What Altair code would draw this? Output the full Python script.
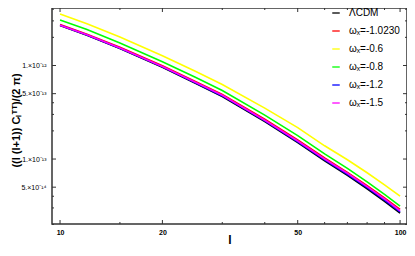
import altair as alt
import pandas as pd

ell = [10, 12, 15, 20, 25, 30, 40, 50, 60, 70, 80, 90, 100]
lcdm = [2.68e-12, 2.11e-12, 1.52e-12, 9.57e-13, 6.45e-13, 4.66e-13, 2.51e-13, 1.50e-13, 9.57e-14, 6.70e-14, 4.81e-14, 3.53e-14, 2.64e-14]
w_10230 = [2.75e-12, 2.16e-12, 1.57e-12, 9.93e-13, 6.73e-13, 4.90e-13, 2.66e-13, 1.60e-13, 1.025e-13, 7.21e-14, 5.20e-14, 3.84e-14, 2.89e-14]
w_06 = [3.56e-12, 2.80e-12, 2.02e-12, 1.27e-12, 8.67e-13, 6.26e-13, 3.50e-13, 2.17e-13, 1.385e-13, 9.82e-14, 7.13e-14, 5.30e-14, 4.01e-14]
w_08 = [3.07e-12, 2.42e-12, 1.74e-12, 1.096e-12, 7.48e-13, 5.40e-13, 2.95e-13, 1.78e-13, 1.137e-13, 7.96e-14, 5.71e-14, 4.19e-14, 3.14e-14]
w_12 = [2.69e-12, 2.12e-12, 1.53e-12, 9.67e-13, 6.53e-13, 4.73e-13, 2.56e-13, 1.53e-13, 9.80e-14, 6.87e-14, 4.94e-14, 3.63e-14, 2.72e-14]
w_15 = [2.70e-12, 2.13e-12, 1.54e-12, 9.76e-13, 6.61e-13, 4.80e-13, 2.60e-13, 1.56e-13, 1.00e-13, 7.04e-14, 5.07e-14, 3.74e-14, 2.80e-14]

names = ["ΛCDM", "ωₓ=-1.0230", "ωₓ=-0.6", "ωₓ=-0.8", "ωₓ=-1.2", "ωₓ=-1.5"]
colors = ["#000000", "#ff0000", "#ffff00", "#00ff00", "#0000ff", "#ff00ff"]
series = [lcdm, w_10230, w_06, w_08, w_12, w_15]

x_major = [10, 20, 50, 100]
x_minor = [15, 30, 40, 60, 70, 80, 90]
y_major = [1e-12, 5e-13, 1e-13, 5e-14]
y_minor = [4e-12, 3e-12, 2e-12, 4e-13, 3e-13, 2e-13, 4e-14, 3e-14, 2e-14]

rows = []
for name, vals in zip(names, series):
    for l, v in zip(ell, vals):
        rows.append({"l": l, "v": v, "series": name})
df = pd.DataFrame(rows)

W, H = 355, 216
xscale = alt.Scale(type="log", domain=[9.47, 104.8], nice=False)
yscale = alt.Scale(type="log", domain=[2.02e-14, 4.12e-12], nice=False)

lines = alt.Chart(df).mark_line(strokeWidth=1.6, clip=True).encode(
    x=alt.X("l:Q", scale=xscale, axis=alt.Axis(
        values=x_major, format="d", title="l", ticks=False, grid=False, domain=False,
        labelFont="Liberation Sans", labelFontSize=7, labelFontWeight="bold", labelColor="#000",
        labelPadding=4, titleFont="Liberation Sans", titleFontSize=12, titleFontWeight="bold",
        titleY=22, titleBaseline="bottom", titleColor="#000")),
    y=alt.Y("v:Q", scale=yscale, axis=alt.Axis(
        values=y_major,
        labelExpr="datum.value > 9e-13 ? '1.×10⁻¹²' : datum.value > 4e-13 ? '5.×10⁻¹³' : datum.value > 9e-14 ? '1.×10⁻¹³' : '5.×10⁻¹⁴'",
        ticks=False, grid=False, domain=False, labelFont="Liberation Sans", labelFontSize=7,
        labelColor="#000", labelPadding=6,
        title="((l (l+1)) Cₗᵀᵀ)/(2 π)", titleFont="Liberation Sans", titleFontSize=11,
        titleFontWeight="bold", titleAngle=270, titleBaseline="middle", titleX=-36, titleY=112,
        titleAlign="center", titleColor="#000")),
    color=alt.Color("series:N", scale=alt.Scale(domain=names, range=colors), legend=alt.Legend(
        title=None, orient="none", legendX=279, legendY=0, symbolType="stroke",
        symbolStrokeWidth=1.3, symbolSize=56, labelFont="Liberation Sans", labelFontSize=10,
        labelColor="#000", rowPadding=8, labelOffset=8, padding=0)),
)

def ticks(vals, side, length):
    d = pd.DataFrame({"t": vals})
    m = alt.Chart(d).mark_rule(color="#333333", strokeWidth=1)
    if side == "bottom":
        return m.encode(x=alt.X("t:Q", scale=xscale, axis=None), y=alt.value(H), y2=alt.value(H - length))
    if side == "top":
        return m.encode(x=alt.X("t:Q", scale=xscale, axis=None), y=alt.value(0), y2=alt.value(length))
    if side == "left":
        return m.encode(y=alt.Y("t:Q", scale=yscale, axis=None), x=alt.value(0), x2=alt.value(length))
    return m.encode(y=alt.Y("t:Q", scale=yscale, axis=None), x=alt.value(W), x2=alt.value(W - length))

layers = [lines]
for side in ["bottom", "top"]:
    layers.append(ticks(x_major, side, 4))
    layers.append(ticks(x_minor, side, 2))
for side in ["left", "right"]:
    layers.append(ticks(y_major, side, 4))
    layers.append(ticks(y_minor, side, 2))

chart = alt.layer(*layers).resolve_axis(x="independent", y="independent").properties(
    width=W, height=H,
    autosize=alt.AutoSizeParams(type="none"),
    padding={"left": 44, "top": 0, "right": 0, "bottom": 24},
    background="white",
).configure_view(stroke="#333333", strokeWidth=1.5)

chart.save("out.html", embed_options={"renderer": "svg", "actions": False})
